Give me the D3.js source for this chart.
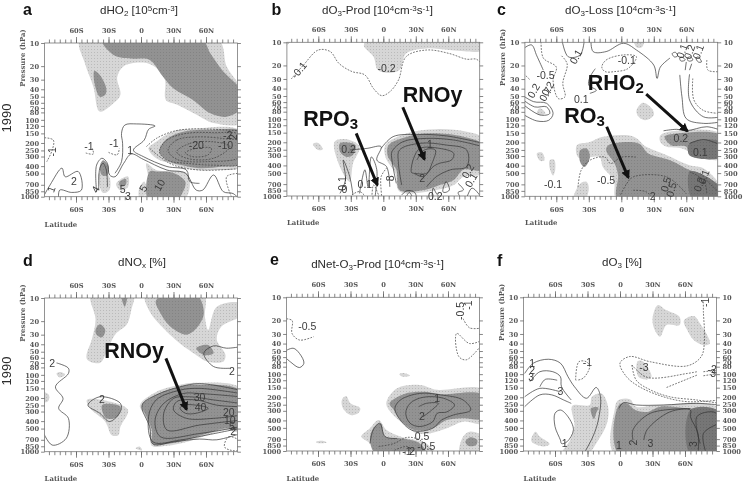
<!DOCTYPE html>
<html><head><meta charset="utf-8">
<script src="https://cdn.jsdelivr.net/npm/d3@7"></script>
<style>
html,body{margin:0;padding:0;background:#fff}
svg{display:block}
.t{font-family:"Liberation Sans",Arial,sans-serif;fill:#2a2a2a}
.g{font-family:"DejaVu Serif",serif;font-size:6.9px;fill:#2a2a2a;font-weight:bold;opacity:.8}
.axis text{font-family:"DejaVu Serif",serif;font-size:6.7px;fill:#2a2a2a;font-weight:bold;opacity:.8}
.axis path,.axis line{stroke:#666;stroke-width:.8}
</style></head><body><svg id="c" width="743" height="483"></svg>
<script>
/* ---- shared axis values ---- */
const pressureTicks=[10,20,30,40,50,60,70,80,100,120,150,200,250,300,400,500,700,850,1000];
const latMajor=[-60,-30,0,30,60];
const latMinor=[-85,-80,-75,-70,-65,-60,-55,-50,-45,-40,-35,-30,-25,-20,-15,-10,-5,0,5,10,15,20,25,30,35,40,45,50,55,60,65,70,75,80,85];
const yearLabel="1990";

/* ---- panel a ---- */
const aLight=[
 [[-56,10],[-52,18],[-44,37],[-38,78],[-25,60],[-19,47],[-22,28],[-16,20],[2,18],[14,21],[22,30],[23,55],[33,63],[51,85],[67,110],[89,110],[89,40],[79,20],[71,10]],
 [[7,236],[14,193],[30,141],[48,131],[89,139],[89,404],[73,450],[45,440],[27,368],[14,316]],
 [[5,368],[14,450],[42,493],[45,750],[39,1000],[5,1000],[7,600]],
 [[-39,493],[-30,525],[-29,810],[-35,895],[-38,750]],
 [[-23,680],[-12,545],[-12,745],[-19,830]],
 [[-2,810],[3,635],[5,860],[-1,1000]]];
const aDark=[
 [[-36,10],[-25,14.4],[-7,16],[8,16.6],[20,27],[30,39],[48,55],[64,82],[79,91],[89,72],[89,41],[76,23.5],[64,13.6],[56,10]],
 [[-43,23],[-38,26],[-32,39],[-33,47],[-38,50],[-43,33]],
 [[17,260],[21,193],[30,158],[45,138],[67,135],[89,142],[89,368],[76,405],[54,425],[37,388],[24,335]],
 [[8,470],[14,470],[30,490],[41,640],[38,910],[33,1000],[7,1000]],
 [[-38,404],[-35,335],[-30,404],[-31,525],[-36,525]],
 [[-20,640],[-14,590],[-14,700],[-19,740]]];
const aSolid=[
 [[-41,860],[-41,388],[-36,316],[-31,368],[-29,522],[-24,550],[-16,368],[-9,278],[2,326],[24,450],[41,495],[51,820],[57,820],[67,522],[76,860],[85,910],[89,1000]],
 [[-24,495],[-18,350],[-17,202],[-18,150],[-15,117],[-4,113],[13,120],[7,133],[3,183],[-7,248],[2,300],[24,405],[42,450],[45,635],[54,670]],
 [[-89,1000],[-84,705],[-73,425],[-70,550],[-58,470],[-55,820],[-64,880],[-75,820],[-76,1000]],
 [[-39,810],[-38,424],[-35,368],[-32,450],[-31,750]]];
const aDashed=[
 [[-89,170],[-81,183],[-82,248],[-87,350]],
 [[-51,270],[-44,278],[-45,235]],
 [[-30,265],[-22,285],[-20,235]],
 [[5,223],[14,175],[30,141],[48,131],[89,139]],
 [[8,235],[17,300],[30,388],[54,450],[89,430]],
 [[89,495],[79,550],[85,1000]]];
const aDashedRings=[
 [[17,260],[24,183],[42,150],[67,147],[89,159],[89,368],[67,388],[42,368],[24,335]],
 [[25,248],[33,183],[51,167],[76,175],[89,193],[89,300],[61,350],[33,326]],
 [[33,260],[45,203],[67,193],[82,223],[67,316],[42,316]],
 [[41,268],[51,235],[65,235],[62,285],[47,300]]];
const aLabels=[["-1",-48,218,0],["-1",-25,203,0],["-1",-82,260,-90],["1",-10,248,0],["2",-62,620,0],["1",-83,800,-70],["4",-42,800,-60],["5",-17,800,0],["3",-12,1000,0],["5",2,780,-60],["10",17,705,-60],["-20",51,217,0],["-10",78,217,0],["-2",80,159,0],["2",85,167,-90]];

/* ---- panel b ---- */
const bLight=[
 [[-18,11],[-12,10],[89,10],[89,12.6],[61,12.6],[40,12],[21,14],[15,23],[5,25],[-5,23],[-9,15.4]],
 [[2,217],[22,153],[49,135],[77,146],[89,178],[89,506],[74,560],[65,720],[49,835],[15,875],[11,506],[2,310]],
 [[-45,197],[-34,183],[-22,228],[-28,375],[-31,650],[-40,418]],
 [[-65,210],[-60,205],[-56,248],[-60,252]]];
const bDark=[
 [[5,217],[22,169],[43,153],[74,169],[89,217],[89,456],[74,456],[65,620],[52,720],[38,838],[15,838],[12,456],[4,300]],
 [[-40,206],[-26,217],[-28,293],[-34,310],[-40,265]]];
const bSolid=[
 [[-2,240],[9,169],[31,158],[58,165],[89,206]],
 [[12,685],[8,340],[8,265],[18,197],[40,178],[65,187],[89,228]],
 [[17,720],[14,375],[15,252],[34,206],[58,217],[77,252],[77,415],[62,456],[49,560],[40,760]],
 [[31,340],[38,252],[48,252],[45,375],[40,506],[29,506]],
 [[-40,925],[-35,620],[-37,340],[-31,560],[-28,970]],
 [[-22,925],[-17,456],[-14,760],[-11,310],[-6,456],[-8,1000]],
 [[-31,252],[-15,240],[-2,228],[-6,340],[3,415],[6,760]],
 [[17,970],[22,850],[29,900],[31,1000]],
 [[20,1000],[24,900],[28,1000]],
 [[45,1000],[46,790],[49,925],[54,1000]],
 [[69,685],[74,835],[69,900],[75,1000],[82,790],[89,1000]]];
const bSolidRings=[
 [[26,495],[28,323],[34,240],[52,240],[65,278],[63,340],[52,375],[46,415],[37,560],[28,506]],
 [[55,880],[58,650],[61,835],[57,900]]];
const bDashed=[
 [[-85,30],[-74,20],[-60,12.6],[-49,13.2],[-41,18.8],[-29,24],[-17,26.6],[-9,40],[-1.5,49.5],[6,44],[14,31],[21,15.4],[40,12.6],[61,14],[77,16.6],[86,16.6],[89,20]],
 [[-89,12],[-84,10]],
 [[-29,970],[-22,875],[-12,1000],[-9,720],[-2,1000],[-2,560],[3,435]]];
const bLabels=[["-0.1",-78,23,-50],["-0.2",3,22,0],["0.2",-32,245,0],["1",43,211,0],["2",36,580,0],["0.1",-17,705,0],["0.1",-38,685,-90],["0.2",78,475,-60],["0.1",81,620,-60],["0.2",48,1000,0],["0",-36,810,0],["8",6,590,-90]];
const bNotes=[["RNOy","",18,59],["RPO","3",-74,124]];
const bArrows=[[[18,70],[38,333]],[[-25,153],[-5.5,720]]];

/* ---- panel c ---- */
const cLight=[
 [[12,10],[21,10],[19,11.6],[14,11.6]],
 [[14,77],[20,61],[28,72],[30,88],[22,103],[16,93]],
 [[-78,84],[-75,72],[-70,84],[-74,88]],
 [[-78,278],[-73,272],[-71,340],[-75,346]],
 [[-66,340],[-62,335],[-61,456],[-63,535],[-66,435]],
 [[-44,1000],[-38,685],[-32,650],[-30,790],[-34,1000]],
 [[36,162],[51,141],[89,157],[89,323],[76,323],[56,240],[42,228],[36,197]],
 [[-41,217],[-29,197],[-17,169],[11,167],[23,228],[42,293],[63,396],[76,435],[89,760],[89,1000],[-4,1000],[-7,620],[-17,415],[-20,310],[-29,310],[-40,310]]];
const cDark=[
 [[40,169],[51,153],[89,162],[89,293],[76,310],[63,293],[60,228],[46,217]],
 [[-12,217],[16,206],[25,278],[45,340],[63,456],[73,506],[89,790],[89,1000],[-3,1000],[-3,535],[-6,380],[-14,252]],
 [[-38,252],[-32,240],[-29,310],[-34,415],[-38,358]]];
const cDarker=[
 [[63,206],[89,197],[89,310],[63,293]],
 [[63,480],[73,506],[89,790],[89,1000],[66,1000]]];
const cSolid=[
 [[-55,10],[-49,15.4],[-38,14.6],[-34,10]],
 [[-89,12.6],[-83,10.8],[-78,15],[-72,23]],
 [[-89,54],[-80,69],[-69,69],[-66,84],[-75,88],[-89,62]],
 [[-89,48],[-81,59],[-69,62],[-63,84],[-67,103],[-78,105],[-89,84]],
 [[-28,10],[-26,13.2],[-14,13.2],[2,10.3],[14,12.6],[30,19.8],[33,29.5],[36,21],[45,16]],
 [[-29,46],[-23,42],[-30,36],[-29,28.5],[-24,22]],
 [[60,18],[59,23]],[[65,19],[63,23]],
 [[54,26.5],[56,51],[60,98],[76,113],[89,108]],
 [[63,26],[63,56],[76,93],[89,93]],
 [[39,141],[51,135],[60,141],[79,125],[89,139]],
 [[63,206],[76,183],[89,217]]];
const cSolidRings=[
 [[47,14],[50,13.5],[52,15],[49,15.5]],
 [[54,16],[56,15.5],[59,17],[55,17.5]],
 [[61,16],[64,15.5],[66,17],[62,17.5]],
 [[69,16],[71,15.5],[74,18],[71,18]]];
const cDashed=[
 [[-74,10],[-72,16],[-60,21],[-63,31],[-58,54],[-52,51],[-54,34],[-50,19],[-56,14.6]],
 [[79,17],[80,23],[89,24]],
 [[66,29.5],[67,56],[76,77],[89,84]],
 [[-40,760],[-37,456],[-29,340],[-15,310],[-10,375],[0,310],[14,310]],
 [[-3,1000],[5,685],[11,560],[42,560],[60,925]],
 [[11,835],[23,875],[30,1000]],
 [[63,480],[76,620],[79,925]],
 [[73,506],[85,760],[89,925]],
 [[-89,24],[-84,31]]];
const cDashedRings=[[[-18,21],[-14,17],[2,14.6],[14,15.4],[6,22],[-6,24],[-15,24]]];
const cLabels=[["-0.5",-70,26.5,0],["0.2",-68,40,-60],["0.2",-81,42.5,-60],["0.7",-70,47,-60],["0.1",-37,55,0],["0.1",-42,15.4,-60],["-0.1",5,17,0],["-0.5",-14,620,0],["-0.1",-63,705,0],["0.2",55,178,0],["0.1",73,265,0],["0.5",41,700,-75],["0.5",46,820,-75],["2",29,1000,0],["0.1",76,560,-70],["0.2",72,700,-70],["0.1",56,13,-70],["0.2",63,13.3,-70],["0.1",71,13.3,-70]];
const cNotes=[["RHO","2",-31,42],["RO","3",-52.6,113]];
const cArrows=[[[23,47],[61,142]],[[-13.5,125],[6.5,573]]];

/* ---- panel d ---- */
const dLight=[
 [[-46,10],[-7,10],[-9,14.3],[-13,22],[-24,30],[-33,55],[-38,70],[-50,62],[-45,33],[-42,19]],
 [[4,10],[58,10],[59,17.5],[62,26],[70,13],[89,11.7],[89,16.7],[74,23.7],[70,35],[78,55],[76,67],[61,67],[51,55],[36,39],[21,25],[8,15]],
 [[-1,248],[14,167],[36,135],[51,127],[89,150],[89,550],[79,522],[61,610],[42,745],[24,835],[10,835],[8,522],[4,350]],
 [[-78,96],[-74,92],[-70,100],[-75,108]],
 [[-89,167],[-85,183],[-86,223],[-89,223]],
 [[-50,212],[-36,212],[-12,285],[-19,472],[-21,610],[-27,610],[-33,408],[-47,273]],
 [[-5,900],[-1,860],[1,960]]];
const dDark=[
 [[-42,26],[-38,22],[-33,26],[-36,32.5],[-41,30]],
 [[-18,10],[-13,10],[-15,13]],
 [[14,10.6],[51,10],[58,15.8],[51,25],[42,30],[27,23.5],[18,15.8]],
 [[51,45],[62,41],[67,52.5],[58,55]],
 [[1,248],[14,183],[36,143],[51,135],[89,162],[89,522],[79,495],[61,580],[42,705],[24,795],[11,795],[10,522],[5,350]],
 [[-36,248],[-19,260],[-22,350],[-32,368]]];
const dSolid=[
 [[-89,495],[-82,820],[-69,670],[-67,368],[-76,273],[-72,203],[-79,143],[-67,96],[-67,82],[-75,72],[-78,70]],
 [[89,43],[79,45],[67,42],[58,52.5],[67,78],[82,82]],
 [[89,159],[54,130],[36,143],[14,183],[1,248],[8,472],[11,795],[30,745],[54,685],[70,700],[89,580]],
 [[89,175],[54,150],[36,158],[14,212],[7,350],[11,745],[36,705],[60,610],[89,495]],
 [[89,193],[54,175],[39,175],[21,235],[13,388],[18,640],[54,580],[89,472]],
 [[89,235],[67,212],[45,193],[30,203],[21,316],[24,522],[54,450],[89,388]],
 [[89,260],[70,248],[51,212],[33,223],[30,285],[42,368],[67,368],[89,335]]];
const dSolidRings=[
 [[-49,248],[-38,193],[-19,235],[-19,300],[-29,405],[-38,316]],
 [[36,272],[39,248],[51,248],[62,272],[51,316],[41,316]]];
const dDashedRings=[[[77,860],[81,640],[89,745],[89,950],[82,950]]];
const dLabels=[["2",-82,70,0],["2",-36,206,0],["2",84,89,0],["30",54,197,0],["40",55,265,0],["20",81,310,0],["10",82,390,0],["5",84,465,0],["2",85,540,0]];
const dNotes=[["RNOy","",-34,61]];
const dArrows=[[[23,61],[42,282]]];

/* ---- panel e ---- */
const eLight=[
 [[3,240],[13,153],[34,138],[50,160],[89,160],[89,435],[74,415],[59,505],[43,590],[31,590],[22,480],[8,323]],
 [[-20,650],[-12,505],[-4,396],[3,530],[16,650],[40,800],[48,1000],[-6,1000],[-12,800]],
 [[71,1000],[74,650],[80,560],[89,650],[89,1000]],
 [[-38,217],[-34,193],[-30,240],[-21,278],[-23,323],[-30,340],[-37,278]],
 [[-62,760],[-56,735],[-52,775],[-60,790]],
 [[15,100],[20,97],[25,104],[18,108]]];
const eDark=[
 [[6,240],[19,182],[37,170],[53,182],[89,186],[89,375],[74,375],[59,396],[46,505],[28,530],[16,396],[10,293]],
 [[-12,720],[-9,505],[-2,435],[2,650],[16,685],[34,800],[40,1000],[-6,1000]],
 [[76,760],[80,665],[87,720],[86,835],[79,860]]];
const eSolid=[
 [[33,265],[40,240],[51,240],[45,293],[37,358]],
 [[-12,800],[-9,530],[-3,435],[2,650],[13,685]]];
const eSolidRings=[
 [[-89,54],[-83,46],[-77,54],[-73,72],[-77,82],[-84,72]],
 [[11,278],[16,217],[34,178],[53,186],[74,217],[81,293],[65,340],[54,396],[46,505],[28,545],[16,396]],
 [[21,323],[25,240],[37,200],[56,206],[66,252],[59,310],[50,323],[46,415],[34,480],[25,435]]];
const eDashed=[
 [[-89,19],[-84,20],[-84,29.5],[-77,36],[-64,32.5]],
 [[74,19],[80,25],[89,25]],
 [[89,36],[80,40],[68,29.5],[70,59],[77,65],[89,40]],
 [[-4,875],[10,800],[22,665],[34,720],[48,1000]],
 [[3,1000],[22,875],[31,1000]]];
const eLabels=[["-0.5",71,15,-90],["-1",79,12.6,-90],["-0.5",-70,23.5,0],["1",50,206,0],["2",36,358,0],["0.5",36,650,0],["-0.5",40,875,0],["-1",22,1000,0],["2",27,1000,0]];

/* ---- panel f ---- */
const fLight=[
 [[-5,1000],[-5,293],[-2,221],[9,212],[15,265],[34,252],[89,278],[89,1000]],
 [[-44,258],[-28,252],[-26,197],[-17,178],[-11,265],[-12,435],[-20,720],[-31,1000],[-54,1000],[-46,720],[-42,480]],
 [[-82,720],[-78,560],[-74,650],[-65,810],[-69,870],[-80,790]],
 [[30,19],[35,12.6],[42,14.5],[55,18],[55,23],[43,23],[37,32.5],[32,26.5]],
 [[59,20],[68,17.5],[74,22],[83,40],[77,42],[68,36],[62,26.5]],
 [[16,69],[20,67],[26,84],[29,108],[25,117],[17,108]]];
const fDark=[
 [[-1,1000],[-1,252],[6,240],[14,293],[25,310],[37,265],[62,278],[89,310],[89,1000]],
 [[-27,280],[-20,272],[-22,323],[-24,384]]];
const fDarker=[[[65,293],[89,310],[89,1000],[65,1000]]];
const fSolid=[
 [[-88,98],[-80,72],[-66,64],[-55,72],[-48,108],[-42,146],[-31,206],[-22,149],[-18,197],[-20,396],[-25,650],[-34,1000]],
 [[-83,125],[-74,93],[-62,93],[-55,108],[-54,146],[-45,217]],
 [[-88,265],[-74,186],[-63,186],[-52,217],[-45,240]],
 [[-88,197],[-74,153],[-55,170]],
 [[-74,146],[-69,117],[-58,120]],
 [[-1,280],[3,235],[15,252],[40,252],[71,240],[89,252]],
 [[12,720],[12,530],[28,323],[65,280]],
 [[22,720],[25,530],[46,310],[65,293],[65,358],[72,590],[72,1000]],
 [[74,800],[71,358],[86,310],[89,358]],
 [[89,435],[77,590],[80,1000]]];
const fSolidRings=[[[-55,720],[-60,480],[-60,323],[-55,293],[-48,358],[-43,530],[-49,760],[-54,800]]];
const fDashed=[
 [[-41,120],[-38,69],[-31,69],[-28,80],[-34,113],[-40,120]],
 [[77,11.4],[77,15.4],[78,36],[75,59],[62,78],[28,69],[9,59],[0,72],[6,108],[18,146],[40,197],[62,228],[89,217]],
 [[11,76],[25,110],[62,98],[71,93]],
 [[11,76],[15,120],[28,160],[46,197],[71,217],[89,240]],
 [[43,149],[71,103]],
 [[77,93],[89,88]],
 [[77,105],[89,97]]];
const fLabels=[["1",-81,72,0],["2",-81,90,0],["3",-82,110,0],["3",-55,167,0],["-1",-30,69,0],["1",-51,800,0],["-3",22,82,0],["-2",85,85,0],["3",86,98,0],["-1",79,11.6,-90],["1",-1,850,0],["2",12,775,-90],["3",28,800,0],["3",68,810,-90]];

/* ---- panel table ---- */
const panels=[
 {letter:"a",title:[["dHO"],["2","sub"],[" [10"],["5","sup"],["cm"],["-3","sup"],["]"]],xr:[44.6,237.4],yr:[43,196.7],tx:139,ty:14,lx:23,ly:15,press:true,right:false,
  latY:226.5,year:118,light:aLight,dark:aDark,darker:[],solid:aSolid,rings:[],dashed:aDashed,dashedRings:aDashedRings,labels:aLabels,notes:[],arrows:[]},
 {letter:"b",title:[["dO"],["3","sub"],["-Prod [10"],["4","sup"],["cm"],["-3","sup"],["s"],["-1","sup"],["]"]],xr:[286.9,479.7],yr:[42.3,196],tx:377.5,ty:14,lx:271.5,ly:15,press:false,right:false,
  latY:225,light:bLight,dark:bDark,darker:[],solid:bSolid,rings:bSolidRings,dashed:bDashed,dashedRings:[],labels:bLabels,notes:bNotes,arrows:bArrows},
 {letter:"c",title:[["dO"],["3","sub"],["-Loss [10"],["4","sup"],["cm"],["-3","sup"],["s"],["-1","sup"],["]"]],xr:[524.9,717.7],yr:[42.3,196.3],tx:620.5,ty:14,lx:497,ly:15,press:true,right:true,
  latY:225,light:cLight,dark:cDark,darker:cDarker,solid:cSolid,rings:cSolidRings,dashed:cDashed,dashedRings:cDashedRings,labels:cLabels,notes:cNotes,arrows:cArrows},
 {letter:"d",title:[["dNO"],["x","sub"],[" [%]"]],xr:[44.6,237.4],yr:[298,451.7],tx:142,ty:266,lx:23,ly:266,press:true,right:false,
  latY:481,year:371,light:dLight,dark:dDark,darker:[],solid:dSolid,rings:dSolidRings,dashed:[],dashedRings:dDashedRings,labels:dLabels,notes:dNotes,arrows:dArrows},
 {letter:"e",title:[["dNet-O"],["3","sub"],["-Prod [10"],["4","sup"],["cm"],["-3","sup"],["s"],["-1","sup"],["]"]],xr:[286.6,479.4],yr:[297.3,451],tx:377.5,ty:268,lx:270,ly:265,press:false,right:false,
  latY:480.7,light:eLight,dark:eDark,darker:[],solid:eSolid,rings:eSolidRings,dashed:eDashed,dashedRings:[],labels:eLabels,notes:[],arrows:[]},
 {letter:"f",title:[["dO"],["3","sub"],[" [%]"]],xr:[523.6,716.4],yr:[297.3,451],tx:622,ty:266,lx:497,ly:266,press:true,right:true,
  latY:480.7,light:fLight,dark:fDark,darker:fDarker,solid:fSolid,rings:fSolidRings,dashed:fDashed,dashedRings:[],labels:fLabels,notes:[],arrows:[]}
];

const svg=d3.select("#c");
const defs=svg.append("defs");
const root=svg.append("g").attr("opacity",.995);
function stipple(id,bg,dot){
  const p=defs.append("pattern").attr("id",id).attr("patternUnits","userSpaceOnUse").attr("width",3).attr("height",3);
  p.append("rect").attr("width",3).attr("height",3).attr("fill",bg);
  p.append("rect").attr("x",1).attr("y",1).attr("width",1).attr("height",1).attr("fill",dot);
}
stipple("lt","#d6d6d6","#bababa");
stipple("dk","#929292","#838383");
stipple("dr","#757575","#686868");
defs.append("marker").attr("id","ah").attr("viewBox","0 0 10 10").attr("refX",8).attr("refY",5)
  .attr("markerWidth",3).attr("markerHeight",3.2).attr("orient","auto").attr("markerUnits","strokeWidth")
  .append("path").attr("d","M0,0L10,5L0,10Z").attr("fill","#111");

panels.forEach((P,i)=>{
  const x=d3.scaleLinear().domain([-89,89]).range(P.xr);
  const y=d3.scaleLog().domain([10,1000]).range(P.yr);
  const g=root.append("g");
  const clipId="clip"+i;
  defs.append("clipPath").attr("id",clipId).append("rect").attr("x",P.xr[0]).attr("y",P.yr[0])
    .attr("width",P.xr[1]-P.xr[0]).attr("height",P.yr[1]-P.yr[0]);
  const edgeLat=v=>v>=89?v+3:v<=-89?v-3:v;
  const edgeP=v=>v>=1000?v*1.12:v<=10?v*0.9:v;
  const open=d3.line().x(d=>x(edgeLat(d[0]))).y(d=>y(edgeP(d[1]))).curve(d3.curveCatmullRom.alpha(.5));
  const closed=d3.line().x(d=>x(edgeLat(d[0]))).y(d=>y(edgeP(d[1]))).curve(d3.curveCatmullRomClosed.alpha(.5));
  const plot=g.append("g").attr("clip-path",`url(#${clipId})`);
  const fills=(arr,f)=>plot.append("g").selectAll("path").data(arr).join("path").attr("d",closed).attr("fill",f).attr("stroke","none");
  fills(P.light,"url(#lt)");fills(P.dark,"url(#dk)");fills(P.darker,"url(#dr)");
  const lines=(arr,gen,dash)=>plot.append("g").selectAll("path").data(arr).join("path").attr("d",gen)
    .attr("fill","none").attr("stroke",dash?"#3c3c3c":"#333").attr("stroke-width",.7).attr("stroke-dasharray",dash?"1.8 1.3":null);
  lines(P.solid,open,false);lines(P.rings,closed,false);lines(P.dashed,open,true);lines(P.dashedRings,closed,true);
  // frame
  g.append("rect").attr("x",P.xr[0]).attr("y",P.yr[0]).attr("width",P.xr[1]-P.xr[0]).attr("height",P.yr[1]-P.yr[0])
    .attr("fill","none").attr("stroke","#777").attr("stroke-width",.8);
  // axes
  const fmt=d=>d===0?"0":(Math.abs(d)+(d<0?"S":"N"));
  g.append("g").attr("class","axis").attr("transform",`translate(0,${P.yr[0]})`).call(d3.axisTop(x).tickValues(latMinor).tickSize(3.5).tickFormat(""));
  g.append("g").attr("class","axis").attr("transform",`translate(0,${P.yr[0]})`).call(d3.axisTop(x).tickValues(latMajor).tickSize(6).tickPadding(4.5).tickFormat(fmt));
  g.append("g").attr("class","axis").attr("transform",`translate(0,${P.yr[1]})`).call(d3.axisBottom(x).tickValues(latMinor).tickSize(3.5).tickFormat(""));
  g.append("g").attr("class","axis").attr("transform",`translate(0,${P.yr[1]})`).call(d3.axisBottom(x).tickValues(latMajor).tickSize(6).tickPadding(4.5).tickFormat(fmt));
  g.append("g").attr("class","axis").attr("transform",`translate(${P.xr[0]},0)`).call(d3.axisLeft(y).tickValues(pressureTicks).tickSize(3.5).tickPadding(2).tickFormat(d3.format("d")));
  g.append("g").attr("class","axis").attr("transform",`translate(${P.xr[1]},0)`).call(d3.axisRight(y).tickValues(pressureTicks).tickSize(3.5).tickPadding(2.5).tickFormat(P.right?d3.format("d"):""));
  g.selectAll(".axis .domain").remove();
  // titles
  const tt=g.append("text").attr("class","t").attr("x",P.tx).attr("y",P.ty).attr("text-anchor","middle").style("font-size","11.6px");
  P.title.forEach(([s,k])=>{
    const sp=tt.append("tspan").text(s);
    if(k==="sub")sp.attr("baseline-shift","-22%").style("font-size","8px");
    if(k==="sup")sp.attr("baseline-shift","38%").style("font-size","8px");
  });
  g.append("text").attr("class","t").attr("x",P.lx).attr("y",P.ly).style("font-size","16px").style("font-weight","bold").style("fill","#111").text(P.letter);
  g.append("text").attr("class","g").attr("x",P.xr[0]).attr("y",P.latY).text("Latitude");
  if(P.press) g.append("text").attr("class","g").attr("transform",`translate(${P.xr[0]-20},${P.yr[0]+15}) rotate(-90)`).attr("text-anchor","middle").text("Pressure (hPa)");
  if(P.year) g.append("text").attr("class","t").attr("transform",`translate(10.5,${P.year}) rotate(-90)`).attr("text-anchor","middle").style("font-size","13px").text(yearLabel);
  // contour labels
  g.append("g").selectAll("text").data(P.labels).join("text").attr("class","t")
    .attr("transform",d=>`translate(${x(d[1])},${y(d[2])}) rotate(${d[3]})`)
    .attr("text-anchor","middle").attr("dy","0.36em").style("font-size","10.5px").style("fill","#3a3a3a").text(d=>d[0]);
  // annotations
  P.arrows.forEach(a=>{
    g.append("line").attr("x1",x(a[0][0])).attr("y1",y(a[0][1])).attr("x2",x(a[1][0])).attr("y2",y(a[1][1]))
      .attr("stroke","#111").attr("stroke-width",3).attr("marker-end","url(#ah)");
  });
  P.notes.forEach(n=>{
    const t=g.append("text").attr("class","t").attr("x",x(n[2])).attr("y",y(n[3])).style("font-size","21.5px").style("font-weight","bold").style("fill","#111");
    t.append("tspan").text(n[0]);
    if(n[1]) t.append("tspan").attr("baseline-shift","-22%").style("font-size","15px").text(n[1]);
  });
});
</script></body></html>
